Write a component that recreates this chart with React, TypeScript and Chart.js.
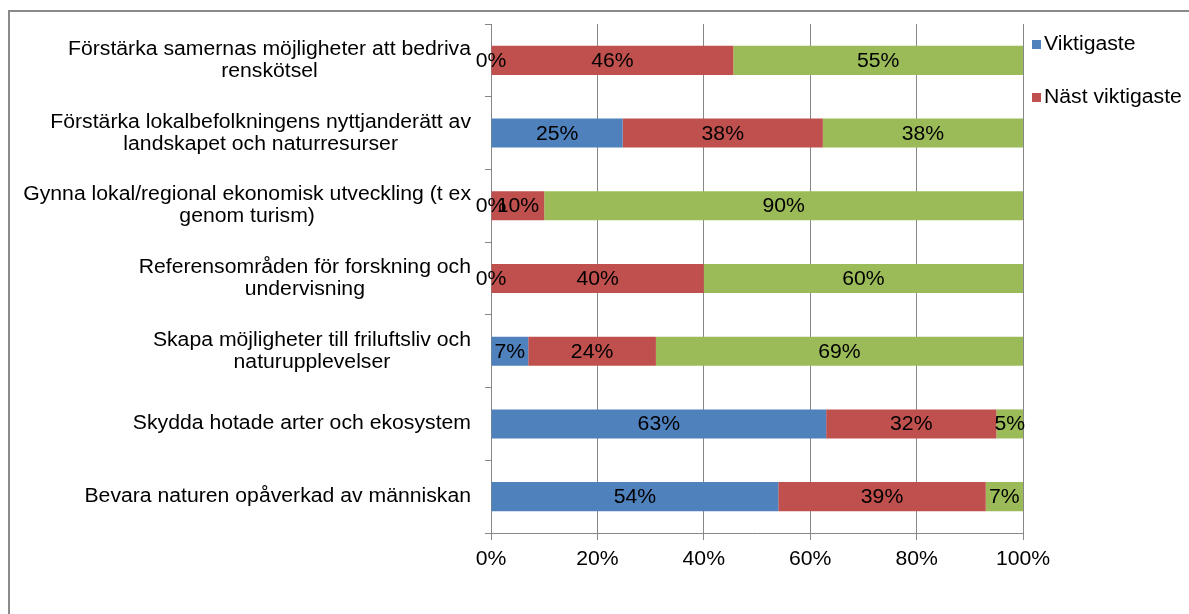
import React, { useEffect, useRef } from "react";
import { Chart, registerables } from "chart.js";

Chart.register(...registerables);

const categories: string[][] = [
  ["Förstärka samernas möjligheter att bedriva", "renskötsel"],
  ["Förstärka lokalbefolkningens nyttjanderätt av", "landskapet och naturresurser"],
  ["Gynna lokal/regional ekonomisk utveckling (t ex", "genom turism)"],
  ["Referensområden för forskning och", "undervisning"],
  ["Skapa möjligheter till friluftsliv och", "naturupplevelser"],
  ["Skydda hotade arter och ekosystem"],
  ["Bevara naturen opåverkad av människan"],
];

const viktigaste = [0, 25, 0, 0, 7, 63, 54];
const nastViktigaste = [46, 38, 10, 40, 24, 32, 39];
const ovriga = [55, 38, 90, 60, 69, 5, 7];

const xTicks = [0, 20, 40, 60, 80, 100];

const seriesNames = ["Viktigaste", "Näst viktigaste", ""];
const seriesColors = ["#4F81BD", "#C0504D", "#9BBB59"];

const FONT = '20px "Liberation Sans", Arial, sans-serif';
const SX = 1.06;
const GRID = "#878787";

function drawText(ctx: CanvasRenderingContext2D, text: string, x: number, y: number, align: CanvasTextAlign) {
  ctx.save();
  ctx.translate(x, y);
  ctx.scale(SX, 1);
  ctx.textAlign = align;
  ctx.textBaseline = "middle";
  ctx.fillText(text, 0, 0);
  ctx.restore();
}

export default function App() {
  const ref = useRef<HTMLCanvasElement | null>(null);

  useEffect(() => {
    if (!ref.current) return;
    const raw = [viktigaste, nastViktigaste, ovriga];
    const totals = categories.map((_, i) => raw.reduce((s, a) => s + a[i], 0));
    const norm = raw.map((a) => a.map((v, i) => (v / totals[i]) * 100));

    const textPlugin = {
      id: "texts",
      afterDatasetsDraw(chart: any) {
        const ctx = chart.ctx as CanvasRenderingContext2D;
        const area = chart.chartArea;
        ctx.save();
        ctx.font = FONT;
        ctx.fillStyle = "#000";
        // data labels
        chart.data.datasets.forEach((ds: any, di: number) => {
          const meta = chart.getDatasetMeta(di);
          meta.data.forEach((el: any, i: number) => {
            const cx = (el.x + el.base) / 2;
            drawText(ctx, raw[di][i] + "%", cx, el.y + 1, "center");
          });
        });
        // y labels
        const yScale = chart.scales.y;
        const rightEdge = area.left - 20;
        categories.forEach((lines, i) => {
          const cy = yScale.getPixelForValue(i);
          const maxW = Math.max(...lines.map((l) => ctx.measureText(l).width * SX));
          const cx = rightEdge - maxW / 2;
          const lh = 22;
          lines.forEach((l, li) => {
            const y = cy + (li - (lines.length - 1) / 2) * lh;
            drawText(ctx, l, cx, y, "center");
          });
        });
        // x tick labels
        const xScale = chart.scales.x;
        xTicks.forEach((t) => {
          drawText(ctx, t + "%", xScale.getPixelForValue(t), area.bottom + 26, "center");
        });
        // legend
        const legendY = [44, 97];
        [0, 1].forEach((k) => {
          ctx.fillStyle = seriesColors[k];
          ctx.fillRect(1032, legendY[k] - 4, 9, 9);
          ctx.fillStyle = "#000";
          drawText(ctx, seriesNames[k], 1044, legendY[k], "left");
        });
        ctx.restore();
      },
    };

    const chart = new Chart(ref.current, {
      type: "bar",
      data: {
        labels: categories.map((c) => c.join(" ")),
        datasets: norm.map((d, k) => ({
          label: seriesNames[k],
          data: d,
          backgroundColor: seriesColors[k],
          borderWidth: 0,
          categoryPercentage: 1,
          barPercentage: 0.4,
        })),
      },
      options: {
        indexAxis: "y",
        responsive: false,
        animation: false,
        devicePixelRatio: 1,
        layout: { padding: { top: 24, right: 166, left: 0, bottom: 0 } },
        plugins: { legend: { display: false }, tooltip: { enabled: false } },
        scales: {
          x: {
            stacked: true,
            min: 0,
            max: 100,
            ticks: { stepSize: 20, display: false },
            grid: { color: GRID, lineWidth: 1, drawTicks: true, tickLength: 7 },
            border: { color: GRID, width: 1 },
            afterFit: (s: any) => {
              s.height = 81;
            },
          },
          y: {
            stacked: true,
            ticks: { display: false },
            grid: { color: GRID, lineWidth: 1, drawOnChartArea: false, drawTicks: true, tickLength: 6, offset: true },
            border: { color: GRID, width: 1 },
            afterFit: (s: any) => {
              s.width = 491;
            },
          },
        },
      },
      plugins: [textPlugin],
    } as any);
    return () => chart.destroy();
  }, []);

  return (
    <div style={{ position: "fixed", left: 0, top: 0, right: 0, bottom: 0, overflow: "hidden", background: "#fff" }}>
      <div
        style={{
          position: "absolute",
          left: 8,
          top: 10,
          width: 1400,
          height: 800,
          borderLeft: "2px solid #8a8a8a",
          borderTop: "2px solid #8a8a8a",
        }}
      />
      <canvas ref={ref} width={1189} height={614} style={{ position: "absolute", left: 0, top: 0 }} />
    </div>
  );
}
